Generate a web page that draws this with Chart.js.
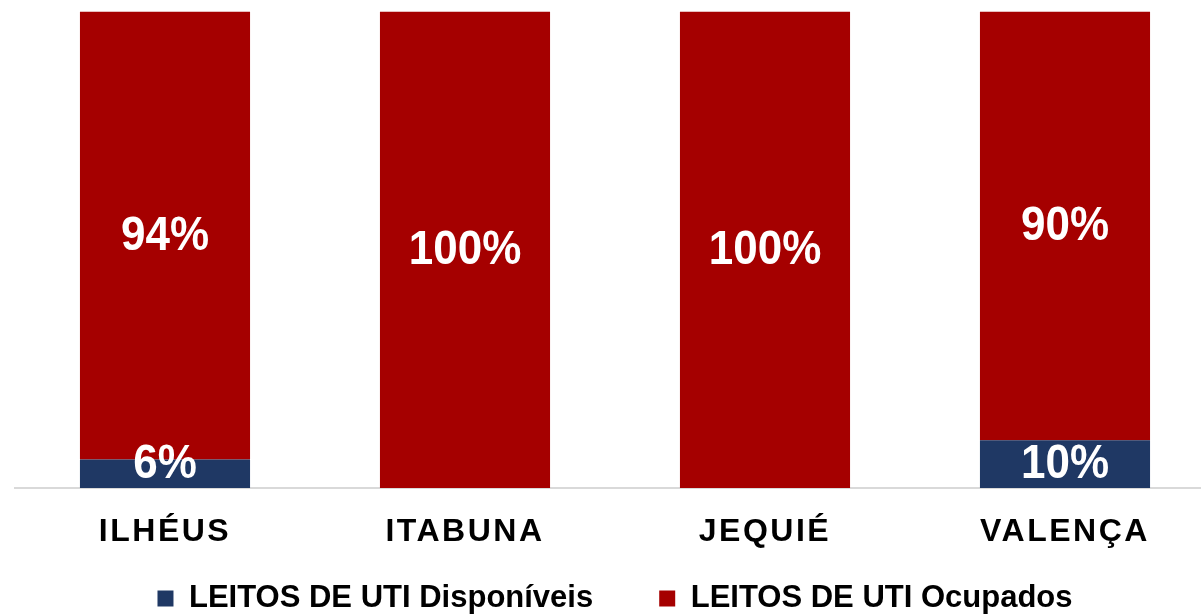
<!DOCTYPE html>
<html>
<head>
<meta charset="utf-8">
<script src="https://cdn.jsdelivr.net/npm/chart.js@4/dist/chart.umd.min.js"></script>
<style>
  html, body { margin: 0; padding: 0; background: #fff; overflow: hidden; }
  #wrap { position: relative; width: 1215px; height: 624px; }
</style>
</head>
<body>
<div id="wrap"><canvas id="utiChart" width="1215" height="624"></canvas></div>
<script>
const cities = ['ILHÉUS', 'ITABUNA', 'JEQUIÉ', 'VALENÇA'];
const disponiveis = [6, 0, 0, 10];
const ocupados = [94, 100, 100, 90];
const seriesNames = ['LEITOS DE UTI Disponíveis', 'LEITOS DE UTI Ocupados'];
const seriesColors = ['#1F3864', '#A50000'];

Chart.defaults.font.family = '"Liberation Sans", Arial, sans-serif';

// white % labels inside the segments; also turns on letter spacing for the x labels drawn after
const barLabels = {
  id: 'barLabels',
  afterDatasetsDraw(chart) {
    const { ctx } = chart;
    chart.data.datasets.forEach((ds, i) => {
      chart.getDatasetMeta(i).data.forEach((bar, j) => {
        const v = ds.data[j];
        if (!v) return;
        const mid = (bar.y + bar.base) / 2 + 1;
        ctx.save();
        ctx.translate(bar.x, Math.min(mid, bar.base - 23));
        ctx.scale(1, 1.1);
        ctx.font = 'bold 44px "Liberation Sans", Arial, sans-serif';
        ctx.fillStyle = '#ffffff';
        ctx.textAlign = 'center';
        ctx.textBaseline = 'middle';
        ctx.fillText(v + '%', 0, 0);
        ctx.restore();
      });
    });
    ctx.letterSpacing = '2.5px';
  },
  afterDraw(chart) {
    chart.ctx.letterSpacing = '0px';
  },
};

new Chart(document.getElementById('utiChart'), {
  type: 'bar',
  data: {
    labels: cities,
    datasets: [
      {
        label: seriesNames[0],
        data: disponiveis,
        backgroundColor: seriesColors[0],
        borderWidth: 0,
        categoryPercentage: 1,
        barPercentage: 0.567,
      },
      {
        label: seriesNames[1],
        data: ocupados,
        backgroundColor: seriesColors[1],
        borderWidth: 0,
        categoryPercentage: 1,
        barPercentage: 0.567,
      },
    ],
  },
  options: {
    responsive: false,
    animation: false,
    layout: { padding: { left: 15, right: 0, top: 11.5, bottom: 0 } },
    plugins: {
      tooltip: { enabled: false },
      legend: {
        position: 'bottom',
        labels: {
          color: '#000000',
          boxWidth: 16,
          boxHeight: 16,
          padding: 66,
          font: { size: 31, weight: 'bold' },
        },
      },
    },
    scales: {
      x: {
        stacked: true,
        offset: true,
        grid: { display: false, drawTicks: false },
        border: { display: true, color: '#D9D9D9', width: 2 },
        ticks: {
          z: 1,
          mirror: true,
          color: '#000000',
          padding: -45,
          maxRotation: 0,
          autoSkip: false,
          font: { size: 32, weight: 'bold', lineHeight: '2px' },
        },
        afterFit(scale) {
          scale.height = 29;
        },
      },
      y: {
        display: false,
        stacked: true,
        min: 0,
        max: 100,
      },
    },
  },
  plugins: [barLabels],
});
</script>
</body>
</html>
